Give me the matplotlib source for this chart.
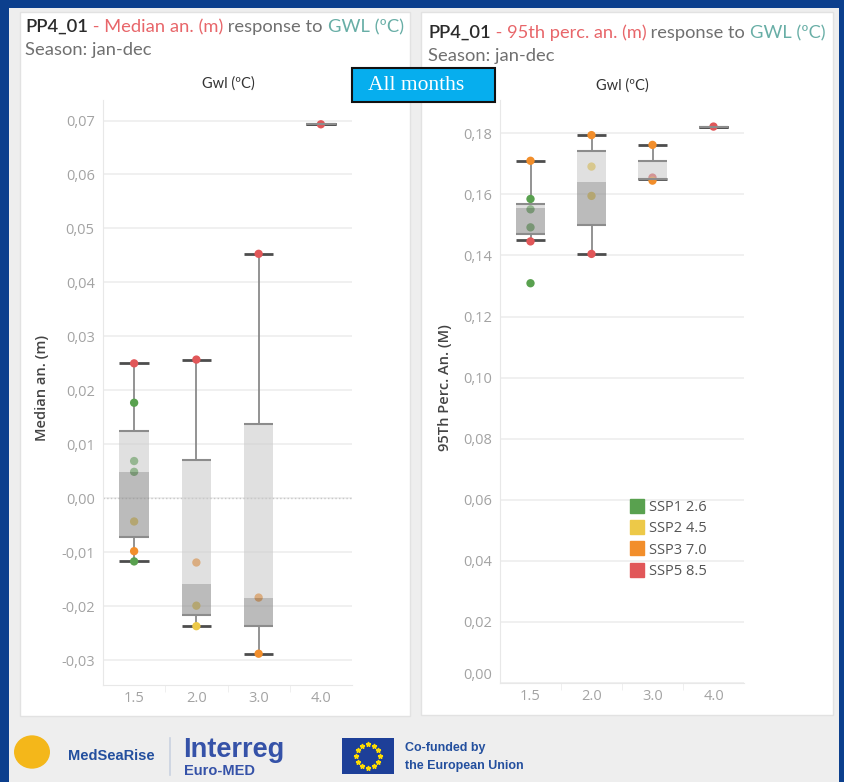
import matplotlib
matplotlib.use("Agg")
from matplotlib import pyplot as plt
from matplotlib.patches import Rectangle, Circle
from matplotlib.lines import Line2D
from matplotlib.ticker import FuncFormatter
import numpy as np

W, H = 844, 782

gwl_labels = ["1.5", "2.0", "3.0", "4.0"]
ssp_names = ["SSP1 2.6", "SSP2 4.5", "SSP3 7.0", "SSP5 8.5"]
ssp_colors = ["#59a14f", "#edc948", "#f28e2b", "#e15759"]

# median anomaly box stats, one value per GWL
med_hi = [0.0250, 0.0257, 0.0453, 0.0693]
med_q3 = [0.0125, 0.0070, 0.0137, 0.0693]
med_mid = [0.0049, -0.0159, -0.0185, 0.0693]
med_q1 = [-0.0071, -0.0217, -0.0237, 0.0693]
med_lo = [-0.0117, -0.0237, -0.0288, 0.0693]
# median anomaly points (gwl index, value, ssp index)
med_pt_gwl = [0, 0, 0, 0, 0, 0, 0, 1, 1, 1, 1, 2, 2, 2, 3]
med_pt_val = [0.0250, 0.0177, 0.0069, 0.0049, -0.0043, -0.0098, -0.0117,
              0.0257, -0.0119, -0.0199, -0.0237,
              0.0453, -0.0184, -0.0288,
              0.0693]
med_pt_ssp = [3, 0, 0, 0, 1, 2, 0, 3, 2, 1, 1, 3, 2, 2, 3]

# 95th percentile anomaly box stats
p95_hi = [0.1710, 0.1794, 0.1762, 0.1822]
p95_q3 = [0.1569, 0.1742, 0.1709, 0.1822]
p95_mid = [0.1554, 0.1641, 0.1652, 0.1822]
p95_q1 = [0.1471, 0.1499, 0.1650, 0.1822]
p95_lo = [0.1449, 0.1405, 0.1649, 0.1822]
p95_pt_gwl = [0, 0, 0, 0, 0, 0, 1, 1, 1, 1, 2, 2, 2, 3]
p95_pt_val = [0.1710, 0.1585, 0.1551, 0.1492, 0.1446, 0.1309,
              0.1794, 0.1691, 0.1595, 0.1405,
              0.1762, 0.1655, 0.1645,
              0.1822]
p95_pt_ssp = [2, 0, 0, 0, 3, 0, 2, 1, 1, 3, 2, 3, 2, 3]

med_ticks = [-0.03, -0.02, -0.01, 0.0, 0.01, 0.02, 0.03, 0.04, 0.05, 0.06, 0.07]
p95_ticks = [0.0, 0.02, 0.04, 0.06, 0.08, 0.10, 0.12, 0.14, 0.16, 0.18]

TITLE_FONT = ["Lato", "DejaVu Sans"]
plt.rcParams["font.family"] = ["Open Sans", "DejaVu Sans"]

fig = plt.figure(figsize=(W / 100, H / 100), dpi=100, facecolor="#0c3f8d")


def fx(x):
    return x / W


def fy(y):
    return 1 - y / H


def px_rect(x0, y0, x1, y1, **kw):
    r = Rectangle((fx(x0), fy(y1)), (x1 - x0) / W, (y1 - y0) / H, transform=fig.transFigure, **kw)
    fig.patches.append(r)
    return r


# background, panels
px_rect(9, 8, 839, 782, facecolor="#eeeeee", edgecolor="none", zorder=-5)
px_rect(20, 12, 410, 716, facecolor="white", edgecolor="#e2e2e2", lw=1, zorder=-4)
px_rect(421, 12, 833, 715, facecolor="white", edgecolor="#e2e2e2", lw=1, zorder=-4)

renderer = fig.canvas.get_renderer()


def color_text(x, y, parts, target, **kw):
    # size the run of coloured pieces so it spans `target` pixels
    probe = fig.text(0, 0, "".join(p[0] for p in parts), fontsize=12, **kw)
    size = 12 * target / probe.get_window_extent(renderer).width
    probe.remove()
    for s, c, wt in parts:
        t = fig.text(fx(x), fy(y), s, color=c, ha="left", va="center", fontsize=size, weight=wt, **kw)
        x += t.get_window_extent(renderer).width
    return size


def comma_fmt(v, pos):
    return ("%.2f" % v).replace(".", ",")


def box_panel(rect, hi, q3, mid, q1, lo, pt_gwl, pt_val, pt_ssp, ticks, ylim):
    ax = fig.add_axes(rect)
    ax.set_facecolor("none")
    xs = np.arange(len(gwl_labels))
    w = 0.47
    ax.vlines(xs, q3, hi, color="#8a8a8a", lw=1.3, zorder=2)
    ax.vlines(xs, lo, q1, color="#8a8a8a", lw=1.3, zorder=2)
    ax.hlines(hi, xs - w / 2, xs + w / 2, color="#4d4d4d", lw=2, zorder=2.5)
    ax.hlines(lo, xs - w / 2, xs + w / 2, color="#4d4d4d", lw=2, zorder=2.5)
    cols = [ssp_colors[i] for i in pt_ssp]
    ax.scatter(pt_gwl, pt_val, s=36, c=cols, edgecolors="none", zorder=3)
    ax.bar(xs, np.array(q3) - np.array(mid), bottom=mid, width=w, color="#c8c8c8", alpha=0.55, zorder=4)
    ax.bar(xs, np.array(mid) - np.array(q1), bottom=q1, width=w, color="#8f8f8f", alpha=0.6, zorder=4)
    ax.hlines(q3, xs - w / 2, xs + w / 2, color="#8c8c8c", lw=1.5, zorder=4.5)
    ax.hlines(q1, xs - w / 2, xs + w / 2, color="#8c8c8c", lw=1.5, zorder=4.5)

    ax.set_xlim(-0.5, len(gwl_labels) - 0.5)
    ax.set_ylim(*ylim)
    ax.set_xticks(xs)
    ax.set_xticklabels(gwl_labels)
    ax.set_xticks(xs[:-1] + 0.5, minor=True)
    ax.set_yticks(ticks)
    ax.yaxis.set_major_formatter(FuncFormatter(comma_fmt))
    ax.tick_params(axis="both", which="major", length=0, labelsize=10.5, labelcolor="#a3a3a3")
    ax.tick_params(axis="y", pad=6)
    ax.tick_params(axis="x", pad=4)
    ax.tick_params(axis="x", which="minor", length=5, color="#ececec")
    ax.grid(axis="y", color="#efefef", lw=1.3)
    ax.set_axisbelow(True)
    for side in ["top", "right"]:
        ax.spines[side].set_visible(False)
    for side in ["left", "bottom"]:
        ax.spines[side].set_color("#e8e8e8")
    return ax


ax1 = box_panel([fx(103), fy(685), (352 - 103) / W, 585 / H],
                med_hi, med_q3, med_mid, med_q1, med_lo,
                med_pt_gwl, med_pt_val, med_pt_ssp, med_ticks, (-0.0346, 0.0738))
ax1.axhline(0, color="#c8c8c8", lw=1, ls=":", zorder=1)

ax2 = box_panel([fx(500), fy(683), (744 - 500) / W, 583 / H],
                p95_hi, p95_q3, p95_mid, p95_q1, p95_lo,
                p95_pt_gwl, p95_pt_val, p95_pt_ssp, p95_ticks, (0.0, 0.1909))
ax2.get_yticklabels()[0].set_va("bottom")

# titles
red, grey, teal, dark = "#e8666a", "#707070", "#68aea6", "#2b2b2b"
ts = color_text(25, 27, [("PP4_01", dark, "semibold"), (" - Median an. (m)", red, "normal"),
                         (" response to ", grey, "normal"), ("GWL (ºC)", teal, "normal")],
                375, family=TITLE_FONT)
fig.text(fx(25), fy(50), "Season: jan-dec", color=grey, family=TITLE_FONT, fontsize=ts, va="center")
color_text(428, 33, [("PP4_01", dark, "semibold"), (" - 95th perc. an. (m)", red, "normal"),
                     (" response to ", grey, "normal"), ("GWL (ºC)", teal, "normal")],
           394, family=TITLE_FONT)
fig.text(fx(428), fy(56), "Season: jan-dec", color=grey, family=TITLE_FONT, fontsize=ts, va="center")

fig.text(fx(228), fy(84), "Gwl (ºC)", color="#333333", family=TITLE_FONT, fontsize=10.5, ha="center", va="center")
fig.text(fx(622), fy(86), "Gwl (ºC)", color="#333333", family=TITLE_FONT, fontsize=10.5, ha="center", va="center")

fig.text(fx(42), fy(388), "Median an. (m)", rotation=90, color="#444444", fontsize=10.5,
         weight="semibold", ha="center", va="center")
fig.text(fx(445), fy(388), "95Th Perc. An. (M)", rotation=90, color="#444444", fontsize=10.5,
         weight="semibold", ha="center", va="center")

# "All months" button
px_rect(352, 68, 495, 102, facecolor="#06aeee", edgecolor="#111111", lw=1.5, zorder=5)
fig.text(fx(368), fy(85), "All months", color="white", family="Liberation Serif", fontsize=15.5,
         va="center", zorder=6)

# legend
handles = [Line2D([], [], marker="s", ls="", markersize=9.5, color=c) for c in ssp_colors]
fig.legend(handles, ssp_names, loc="upper left", bbox_to_anchor=(fx(624), fy(493)), frameon=False,
           borderpad=0, handlelength=0.8, handletextpad=0.4, labelspacing=0.42, fontsize=10.5,
           labelcolor="#555555")

# footer logos
blue = "#234f9e"
fig.patches.append(Circle((fx(32), fy(752)), 18 / W, transform=fig.transFigure, facecolor="#f4b71a",
                          edgecolor="none"))
fig.text(fx(68), fy(756), "MedSeaRise", color=blue, fontsize=10.5, weight="bold",
         family="Liberation Sans", va="center")
fig.lines.append(Line2D([fx(170), fx(170)], [fy(738), fy(775)], transform=fig.transFigure,
                        color="#c9d2e0", lw=1.2))
fig.text(fx(183), fy(750), "Interreg", color="#3552a8", fontsize=19.5, weight="bold",
         family="Liberation Sans", va="center")
fig.text(fx(184), fy(771), "Euro-MED", color="#3552a8", fontsize=10.5, weight="bold",
         family="Liberation Sans", va="center")
px_rect(342, 738, 394, 774, facecolor="#1d3f98", edgecolor="none")
ang = np.linspace(0, 2 * np.pi, 13)[:-1]
fig.lines.append(Line2D(fx(368 + 12 * np.cos(ang)), fy(756 + 12 * np.sin(ang)), transform=fig.transFigure,
                        ls="", marker="*", markersize=3.5, color="#ffdd00"))
fig.text(fx(405), fy(748), "Co-funded by", color=blue, fontsize=9, weight="bold",
         family="Liberation Sans", va="center")
fig.text(fx(405), fy(766), "the European Union", color=blue, fontsize=9, weight="bold",
         family="Liberation Sans", va="center")

fig.savefig("out.png", dpi=100, facecolor=fig.get_facecolor())
